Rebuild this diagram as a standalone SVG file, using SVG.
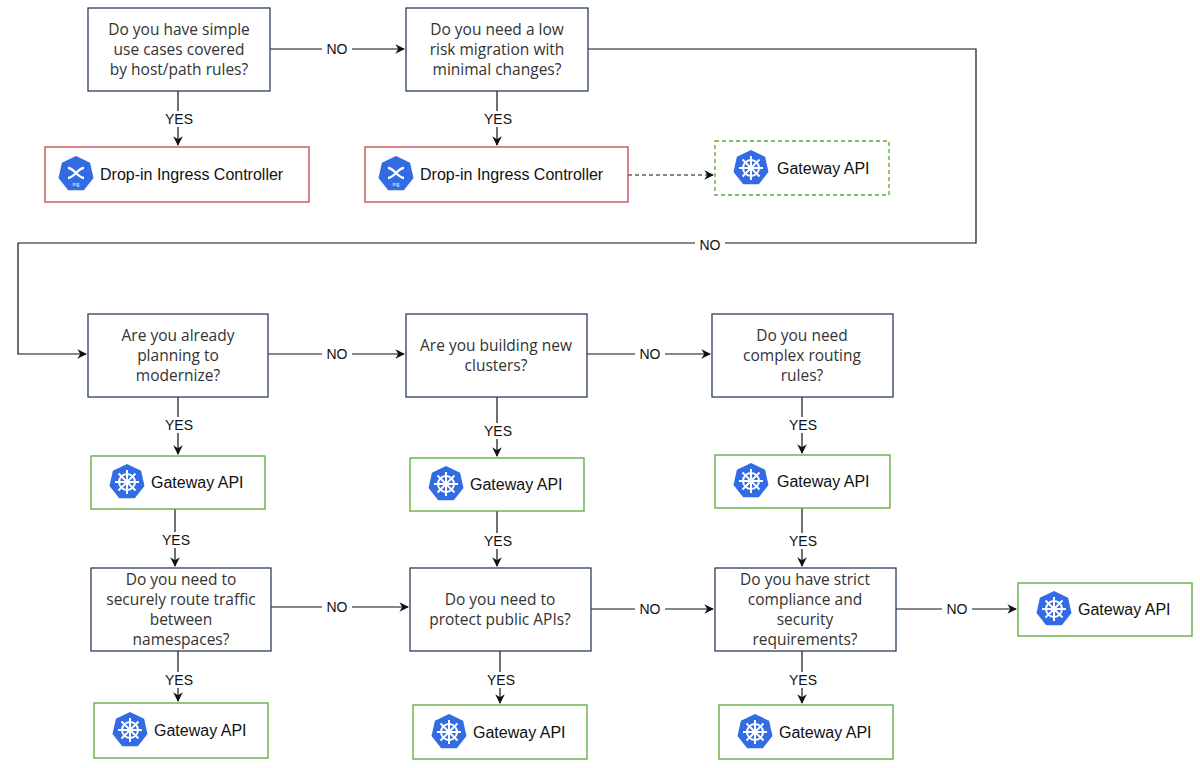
<svg xmlns="http://www.w3.org/2000/svg" xmlns:xlink="http://www.w3.org/1999/xlink" width="1200" height="768" viewBox="0 0 1200 768">
<style>
.q{fill:#fff;stroke:#2b3f5c;stroke-width:1.3}
.g{fill:#fff;stroke:#5aa838;stroke-width:1.3}
.gd{fill:#fff;stroke:#5aa838;stroke-width:1.3;stroke-dasharray:4 3}
.r{fill:#fff;stroke:#c0464f;stroke-width:1.3}
.qt{font-family:"Open Sans","DejaVu Sans",sans-serif;font-size:15.5px;fill:#333;text-anchor:middle}
.lt{font-family:"Liberation Sans",Arial,sans-serif;font-size:16px;fill:#111}
.lb{font-family:"Liberation Sans",Arial,sans-serif;font-size:14px;fill:#111;text-anchor:middle}
.c{fill:none;stroke:#111;stroke-width:1.2}
.lbg{fill:#fff}
</style>
<defs>
<marker id="a" viewBox="0 0 10 10" refX="9" refY="5" markerWidth="8" markerHeight="8" orient="auto"><path d="M0,0 L10,5 L0,10 L3,5 z" fill="#111"/></marker>
<g id="k8s">
<polygon points="0,-18 14.1,-11.2 17.5,4 7.8,16.2 -7.8,16.2 -17.5,4 -14.1,-11.2" fill="#326ce5"/>
<g stroke="#fff" fill="none" stroke-width="2">
<circle r="8"/>
<path d="M0,-12V12M-12,0H12M-8.5,-8.5L8.5,8.5M-8.5,8.5L8.5,-8.5"/>
</g>
<circle r="2.5" fill="#fff"/>
</g>
<g id="ing">
<polygon points="0,-18 14.1,-11.2 17.5,4 7.8,16.2 -7.8,16.2 -17.5,4 -14.1,-11.2" fill="#326ce5"/>
<path d="M-8,-6 C-2,-6 2,4 8,4 M-8,4 C-2,4 2,-6 8,-6" stroke="#fff" stroke-width="2.4" fill="none"/>
<text y="12" font-family="Liberation Sans,sans-serif" font-size="5" fill="#fff" text-anchor="middle">ing</text>
</g>
</defs>

<g id="connectors">
<path class="c" d="M270,49H404" marker-end="url(#a)"/>
<path class="c" d="M588,49H976V243H18V354H86" marker-end="url(#a)"/>
<path class="c" d="M178,91V145" marker-end="url(#a)"/>
<path class="c" d="M497,91V145" marker-end="url(#a)"/>
<path class="c" d="M628,175H713" stroke-dasharray="4 3" marker-end="url(#a)"/>
<path class="c" d="M268,354H404" marker-end="url(#a)"/>
<path class="c" d="M587,354H710" marker-end="url(#a)"/>
<path class="c" d="M178,397V454" marker-end="url(#a)"/>
<path class="c" d="M497,397V456" marker-end="url(#a)"/>
<path class="c" d="M802,397V453" marker-end="url(#a)"/>
<path class="c" d="M175,509V566" marker-end="url(#a)"/>
<path class="c" d="M497,511V566" marker-end="url(#a)"/>
<path class="c" d="M802,508V566" marker-end="url(#a)"/>
<path class="c" d="M271,607H408" marker-end="url(#a)"/>
<path class="c" d="M591,609H713" marker-end="url(#a)"/>
<path class="c" d="M896,609H1016" marker-end="url(#a)"/>
<path class="c" d="M178,651V701" marker-end="url(#a)"/>
<path class="c" d="M500,651V703" marker-end="url(#a)"/>
<path class="c" d="M802,651V703" marker-end="url(#a)"/>
<rect class="lbg" x="322" y="41" width="30" height="16"/><text class="lb" x="337" y="54">NO</text>
<rect class="lbg" x="695" y="237" width="30" height="16"/><text class="lb" x="710" y="250">NO</text>
<rect class="lbg" x="322" y="346" width="30" height="16"/><text class="lb" x="337" y="359">NO</text>
<rect class="lbg" x="635" y="346" width="30" height="16"/><text class="lb" x="650" y="359">NO</text>
<rect class="lbg" x="322" y="599" width="30" height="16"/><text class="lb" x="337" y="612">NO</text>
<rect class="lbg" x="635" y="601" width="30" height="16"/><text class="lb" x="650" y="614">NO</text>
<rect class="lbg" x="942" y="601" width="30" height="16"/><text class="lb" x="957" y="614">NO</text>
<rect class="lbg" x="162" y="111" width="34" height="16"/><text class="lb" x="179" y="124">YES</text>
<rect class="lbg" x="481" y="111" width="34" height="16"/><text class="lb" x="498" y="124">YES</text>
<rect class="lbg" x="162" y="417" width="34" height="16"/><text class="lb" x="179" y="430">YES</text>
<rect class="lbg" x="481" y="423" width="34" height="16"/><text class="lb" x="498" y="436">YES</text>
<rect class="lbg" x="786" y="417" width="34" height="16"/><text class="lb" x="803" y="430">YES</text>
<rect class="lbg" x="159" y="532" width="34" height="16"/><text class="lb" x="176" y="545">YES</text>
<rect class="lbg" x="481" y="533" width="34" height="16"/><text class="lb" x="498" y="546">YES</text>
<rect class="lbg" x="786" y="533" width="34" height="16"/><text class="lb" x="803" y="546">YES</text>
<rect class="lbg" x="162" y="672" width="34" height="16"/><text class="lb" x="179" y="685">YES</text>
<rect class="lbg" x="484" y="672" width="34" height="16"/><text class="lb" x="501" y="685">YES</text>
<rect class="lbg" x="786" y="672" width="34" height="16"/><text class="lb" x="803" y="685">YES</text>
</g>

<g id="q1"><rect class="q" x="88" y="8" width="182" height="83"/><text class="qt" x="179" y="35">Do you have simple</text><text class="qt" x="179" y="55">use cases covered</text><text class="qt" x="179" y="75">by host/path rules?</text></g>
<g id="q2"><rect class="q" x="406" y="8" width="182" height="83"/><text class="qt" x="497" y="35">Do you need a low</text><text class="qt" x="497" y="55">risk migration with</text><text class="qt" x="497" y="75">minimal changes?</text></g>
<g id="ing1"><rect class="r" x="45" y="147" width="264" height="55"/><use xlink:href="#ing" x="76" y="174"/><text class="lt" x="100" y="180">Drop-in Ingress Controller</text></g>
<g id="ing2"><rect class="r" x="365" y="147" width="263" height="55"/><use xlink:href="#ing" x="396" y="174"/><text class="lt" x="420" y="180">Drop-in Ingress Controller</text></g>
<g id="gwd"><rect class="gd" x="715" y="141" width="174" height="54"/><use xlink:href="#k8s" x="751" y="168"/><text class="lt" x="777" y="174">Gateway API</text></g>

<g id="q3"><rect class="q" x="88" y="314" width="180" height="83"/><text class="qt" x="178" y="341">Are you already</text><text class="qt" x="178" y="361">planning to</text><text class="qt" x="178" y="381">modernize?</text></g>
<g id="q4"><rect class="q" x="406" y="314" width="181" height="83"/><text class="qt" x="496" y="351">Are you building new</text><text class="qt" x="496" y="371">clusters?</text></g>
<g id="q5"><rect class="q" x="712" y="314" width="181" height="83"/><text class="qt" x="802" y="341">Do you need</text><text class="qt" x="802" y="361">complex routing</text><text class="qt" x="802" y="381">rules?</text></g>

<g id="gw1"><rect class="g" x="91" y="456" width="174" height="53"/><use xlink:href="#k8s" x="127" y="482"/><text class="lt" x="151" y="488">Gateway API</text></g>
<g id="gw2"><rect class="g" x="410" y="458" width="174" height="53"/><use xlink:href="#k8s" x="446" y="484"/><text class="lt" x="470" y="490">Gateway API</text></g>
<g id="gw3"><rect class="g" x="715" y="455" width="175" height="53"/><use xlink:href="#k8s" x="751" y="481"/><text class="lt" x="777" y="487">Gateway API</text></g>

<g id="q6"><rect class="q" x="91" y="568" width="180" height="83"/><text class="qt" x="181" y="585">Do you need to</text><text class="qt" x="181" y="605">securely route traffic</text><text class="qt" x="181" y="625">between</text><text class="qt" x="181" y="645">namespaces?</text></g>
<g id="q7"><rect class="q" x="410" y="568" width="181" height="83"/><text class="qt" x="500" y="605">Do you need to</text><text class="qt" x="500" y="625">protect public APIs?</text></g>
<g id="q8"><rect class="q" x="715" y="568" width="181" height="83"/><text class="qt" x="805" y="585">Do you have strict</text><text class="qt" x="805" y="605">compliance and</text><text class="qt" x="805" y="625">security</text><text class="qt" x="805" y="645">requirements?</text></g>
<g id="gw4"><rect class="g" x="1018" y="583" width="174" height="53"/><use xlink:href="#k8s" x="1054" y="609"/><text class="lt" x="1078" y="615">Gateway API</text></g>

<g id="gw5"><rect class="g" x="94" y="703" width="174" height="55"/><use xlink:href="#k8s" x="130" y="730"/><text class="lt" x="154" y="736">Gateway API</text></g>
<g id="gw6"><rect class="g" x="413" y="705" width="174" height="54"/><use xlink:href="#k8s" x="449" y="732"/><text class="lt" x="473" y="738">Gateway API</text></g>
<g id="gw7"><rect class="g" x="719" y="705" width="174" height="54"/><use xlink:href="#k8s" x="755" y="732"/><text class="lt" x="779" y="738">Gateway API</text></g>
</svg>
